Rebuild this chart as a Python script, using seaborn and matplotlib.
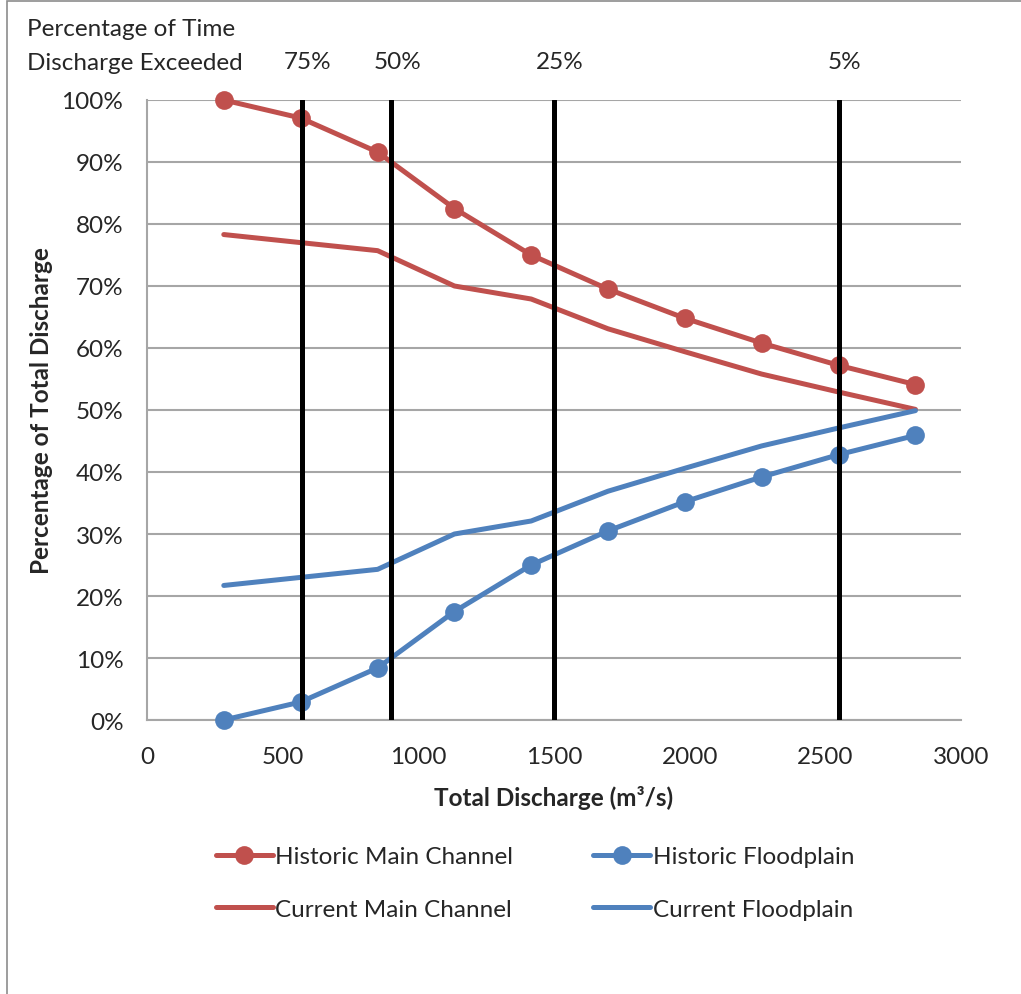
import numpy as np
import pandas as pd
import matplotlib
matplotlib.use("Agg")
import matplotlib.pyplot as plt
import seaborn as sns
from matplotlib.lines import Line2D
from matplotlib.patches import Rectangle

# Total discharge (m3/s) at each computed flow
discharge = [283, 566, 850, 1133, 1416, 1699, 1982, 2265, 2549, 2832]

# Share of total discharge (%) carried by each part of the river
historic_main = [100.0, 97.1, 91.6, 82.5, 75.0, 69.5, 64.8, 60.8, 57.2, 54.1]
historic_flood = [0.0, 2.9, 8.4, 17.5, 25.0, 30.5, 35.2, 39.2, 42.8, 45.9]
current_main = [78.3, 77.0, 75.7, 70.0, 67.9, 63.1, 59.4, 55.8, 52.9, 50.1]
current_flood = [21.7, 23.0, 24.3, 30.0, 32.1, 36.9, 40.6, 44.2, 47.1, 49.9]

# Flow-duration markers: discharge exceeded for the given share of time
exceed_labels = ["75%", "50%", "25%", "5%"]
exceed_discharge = [570, 900, 1500, 2549]

x_ticks = [0, 500, 1000, 1500, 2000, 2500, 3000]
y_ticks = [0, 10, 20, 30, 40, 50, 60, 70, 80, 90, 100]

RED = "#C0504D"
BLUE = "#4F81BD"
GRID = "#A6A6A6"
FS = 17.5

sns.set_style("white")
plt.rcParams["font.family"] = ["Lato", "DejaVu Sans"]

fig = plt.figure(figsize=(10.21, 9.95), dpi=100)
ax = fig.add_axes([147 / 1021, 1 - 721 / 995, (961 - 147) / 1021, (721 - 101) / 995])

# chart border
fig.patches.append(Rectangle((7 / 1021, -0.01), 1.1, 1 - 2 / 995 + 0.01,
                             transform=fig.transFigure, fill=False,
                             edgecolor="#8C8C8C", linewidth=1.2))

series = [
    ("Historic Main Channel", historic_main, RED, "o"),
    ("Historic Floodplain", historic_flood, BLUE, "o"),
    ("Current Main Channel", current_main, RED, None),
    ("Current Floodplain", current_flood, BLUE, None),
]

for name, vals, color, mk in series:
    df = pd.DataFrame({"q": discharge, "pct": vals})
    sns.lineplot(data=df, x="q", y="pct", ax=ax, color=color, linewidth=3.6,
                 marker=mk, markersize=13.5, markeredgewidth=0,
                 markeredgecolor=color, zorder=3, legend=False, clip_on=False)

for xv in exceed_discharge:
    ax.axvline(xv, ymin=0, ymax=1, color="black", linewidth=3.6, zorder=4)

ax.set_xlim(0, 3000)
ax.set_ylim(0, 100)
ax.set_xticks(x_ticks)
ax.set_yticks(y_ticks)
ax.set_yticklabels([f"{v}%" for v in y_ticks])
ax.yaxis.grid(True, color=GRID, linewidth=1.5, zorder=0)
ax.xaxis.grid(False)
ax.set_axisbelow(True)
for side in ["top", "right"]:
    ax.spines[side].set_visible(False)
for side in ["left", "bottom"]:
    ax.spines[side].set_color(GRID)
    ax.spines[side].set_linewidth(1.5)
ax.tick_params(axis="both", which="major", direction="out", length=7,
               width=1.5, color=GRID, labelsize=FS)
ax.tick_params(axis="x", pad=12)
ax.tick_params(axis="y", pad=10)

ax.set_xlabel("Total Discharge (m³/s)", fontsize=FS, fontweight="bold",
              labelpad=13)
ax.set_ylabel("Percentage of Total Discharge", fontsize=FS, fontweight="bold",
              labelpad=6)

# exceedance annotations above the plot
fig.text(27 / 1021, 1 - 30 / 995, "Percentage of Time", fontsize=FS,
         ha="left", va="center")
fig.text(27 / 1021, 1 - 63 / 995, "Discharge Exceeded", fontsize=FS,
         ha="left", va="center")
for lab, xv in zip(exceed_labels, exceed_discharge):
    ax.annotate(lab, xy=(xv, 1), xycoords=("data", "axes fraction"),
                xytext=(6, 38), textcoords="offset pixels",
                ha="center", va="center", fontsize=FS)

# legend laid out row by row: historic on top, current below
handles = {s[0]: Line2D([0], [0], color=s[2], linewidth=3.6, marker=s[3],
                        markersize=13.5, markeredgewidth=0) for s in series}
order = ["Historic Main Channel", "Current Main Channel",
         "Historic Floodplain", "Current Floodplain"]
fig.legend([handles[k] for k in order], order, loc="center",
           bbox_to_anchor=(535 / 1021, 1 - 884 / 995),
           ncol=2, frameon=False, fontsize=FS, handlelength=2.35,
           handletextpad=0.1, columnspacing=3.3, labelspacing=1.3)

fig.savefig("out.png", dpi=100)
